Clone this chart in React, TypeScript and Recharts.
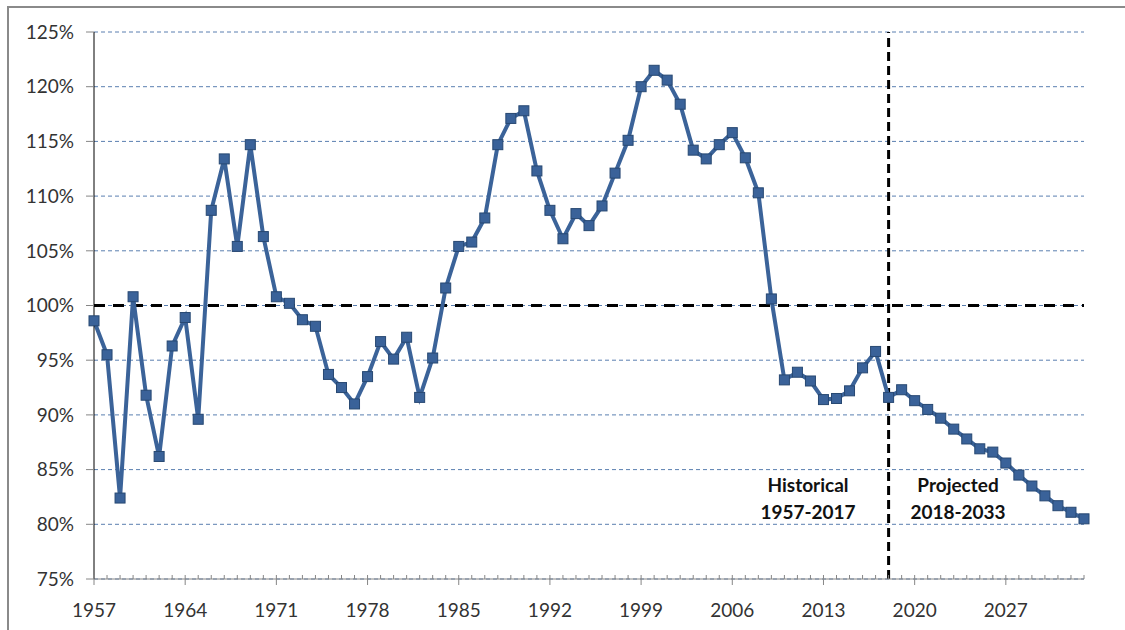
import React from "react";
import {
  LineChart,
  Line,
  XAxis,
  YAxis,
  CartesianGrid,
  ReferenceLine,
} from "recharts";

// ratio by year (percent)
const ratioValues = [
  98.6, 95.5, 82.4, 100.8, 91.8, 86.2, 96.3, 98.9, 89.6, 108.7, // 1957-1966
  113.4, 105.4, 114.7, 106.3, 100.8, 100.2, 98.7, 98.1, 93.7, 92.5, // 1967-1976
  91.0, 93.5, 96.7, 95.1, 97.1, 91.6, 95.2, 101.6, 105.4, 105.8, // 1977-1986
  108.0, 114.7, 117.1, 117.8, 112.3, 108.7, 106.1, 108.4, 107.3, 109.1, // 1987-1996
  112.1, 115.1, 120.0, 121.5, 120.6, 118.4, 114.2, 113.4, 114.7, 115.8, // 1997-2006
  113.5, 110.3, 100.6, 93.2, 93.9, 93.1, 91.4, 91.5, 92.2, 94.3, // 2007-2016
  95.8, 91.6, 92.3, 91.3, 90.5, 89.7, 88.7, 87.8, 86.9, 86.6, // 2017-2026
  85.6, 84.5, 83.5, 82.6, 81.7, 81.1, 80.5, // 2027-2033
];
const years = ratioValues.map((_, i) => 1957 + i);
const yearLabels = [1957, 1964, 1971, 1978, 1985, 1992, 1999, 2006, 2013, 2020, 2027];
const yTicks = [75, 80, 85, 90, 95, 100, 105, 110, 115, 120, 125];
const splitYear = 2018;

const data = years.map((year, i) => ({ year, ratio: ratioValues[i] }));

const FONT = "Lato, 'Open Sans', sans-serif";

const YearTick = (props: any) => {
  const { x, y, payload } = props;
  const major = yearLabels.includes(payload.value);
  return (
    <g>
      <line
        x1={x}
        x2={x}
        y1={y - 4}
        y2={major ? y + 6 : y}
        stroke="#868686"
        strokeWidth={1}
      />
      {major && (
        <text
          x={x}
          y={y + 38}
          textAnchor="middle"
          fontSize={19}
          fontFamily={FONT}
          fill="#333"
        >
          {payload.value}
        </text>
      )}
    </g>
  );
};

const SquareDot = (props: any) => {
  const { cx, cy, index } = props;
  if (cx == null || cy == null) return <g key={index} />;
  return (
    <rect
      key={index}
      x={cx - 5}
      y={cy - 5}
      width={10}
      height={10}
      fill="#3a6299"
      stroke="#274872"
      strokeWidth={1}
    />
  );
};

const labelStyle: React.CSSProperties = {
  position: "absolute",
  width: 140,
  textAlign: "center",
  fontFamily: FONT,
  fontWeight: "bold",
  fontSize: 19,
  lineHeight: "27px",
  color: "#111",
};

export default function App() {
  return (
    <div
      style={{
        position: "absolute",
        left: 0,
        top: 0,
        width: 1125,
        height: 630,
        background: "#fff",
        overflow: "hidden",
      }}
    >
      <div
        style={{
          position: "absolute",
          left: 7,
          top: 6,
          width: 1200,
          height: 700,
          borderTop: "2px solid #8a8a8a",
          borderLeft: "2px solid #8a8a8a",
        }}
      />
      <LineChart
        width={1125}
        height={630}
        data={data}
        margin={{ top: 32, right: 41, bottom: 0, left: 0 }}
        style={{ position: "absolute", left: 0, top: 0 }}
      >
        <CartesianGrid
          vertical={false}
          stroke="#5a7fb0"
          strokeDasharray="4 3"
        />
        <XAxis
          dataKey="year"
          type="number"
          domain={[1957, 2033]}
          ticks={years}
          interval={0}
          tick={<YearTick />}
          tickLine={false}
          tickSize={0}
          tickMargin={0}
          height={51}
          axisLine={{ stroke: "#868686" }}
        />
        <YAxis
          type="number"
          domain={[75, 125]}
          ticks={yTicks}
          interval={0}
          width={94}
          tickSize={8}
          tickMargin={12}
          tickFormatter={(v: number) => `${v}%`}
          tick={{ fontSize: 19, fontFamily: FONT, fill: "#333" }}
          tickLine={{ stroke: "#868686" }}
          axisLine={{ stroke: "#000" }}
        />
        <ReferenceLine
          y={100}
          stroke="#000"
          strokeWidth={3}
          strokeDasharray="11 8"
        />
        <ReferenceLine
          x={splitYear}
          stroke="#000"
          strokeWidth={3}
          strokeDasharray="9 5"
        />
        <Line
          type="linear"
          dataKey="ratio"
          stroke="#3b6399"
          strokeWidth={4}
          dot={SquareDot}
          activeDot={false}
          isAnimationActive={false}
        />
      </LineChart>
      <div style={{ ...labelStyle, left: 738, top: 471 }}>
        Historical
        <br />
        1957-2017
      </div>
      <div style={{ ...labelStyle, left: 888, top: 471 }}>
        Projected
        <br />
        2018-2033
      </div>
    </div>
  );
}
